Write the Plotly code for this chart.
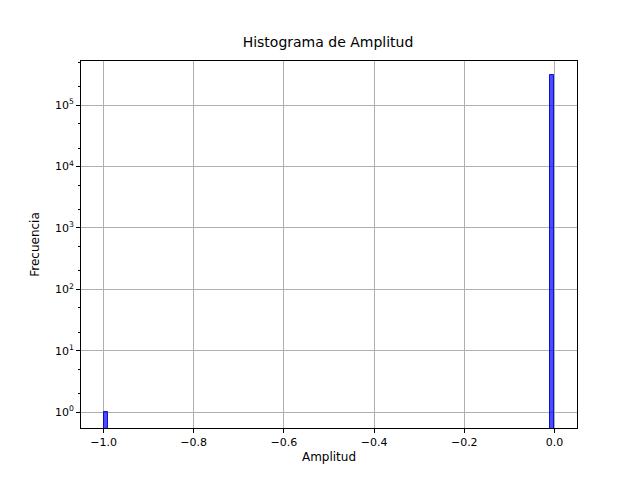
import plotly.graph_objects as go

# histogram bins of width 0.01 from -1 to 0; only the non-empty ones
bin_left = [-1.00, -0.01]
counts = [1, 310000]
bin_width = 0.01

decades = [0, 1, 2, 3, 4, 5]
x_ticks = [-1.0, -0.8, -0.6, -0.4, -0.2, 0.0]

fig = go.Figure()
fig.add_trace(go.Bar(
    x=[b + bin_width / 2 for b in bin_left],
    y=counts,
    width=bin_width,
    marker=dict(color="rgba(0,0,255,0.7)", line=dict(color="rgba(0,0,200,0.9)", width=1)),
))

axis_style = dict(
    showline=True, linecolor="black", linewidth=1, mirror=True,
    ticks="outside", ticklen=4, tickcolor="black",
    showgrid=True, gridcolor="#b0b0b0", gridwidth=1, zeroline=False,
    tickfont=dict(family="DejaVu Sans", size=11, color="black"),
)

fig.update_xaxes(range=[-1.05, 0.05], tickvals=x_ticks,
                 ticktext=["−1.0", "−0.8", "−0.6", "−0.4", "−0.2", "0.0"],
                 title=dict(text="Amplitud", font=dict(family="DejaVu Sans", size=12, color="black"), standoff=4),
                 **axis_style)
fig.update_yaxes(type="log", range=[-0.26, 5.72],
                 tickvals=[10 ** d for d in decades],
                 ticktext=["10<sup>%d</sup>" % d for d in decades],
                 minor=dict(ticks="outside", ticklen=2, tickcolor="black", showgrid=False),
                 title=dict(text="Frecuencia", font=dict(family="DejaVu Sans", size=12, color="black"), standoff=12),
                 **axis_style)

fig.update_layout(
    width=640, height=480,
    margin=dict(l=73, r=71, t=53, b=60),
    paper_bgcolor="white", plot_bgcolor="white",
    showlegend=False, bargap=0,
    title=dict(text="Histograma de Amplitud", x=0.5, xanchor="center", y=0.93, yanchor="middle",
               font=dict(family="DejaVu Sans", size=14, color="black")),
)

fig.write_html("out.html")
